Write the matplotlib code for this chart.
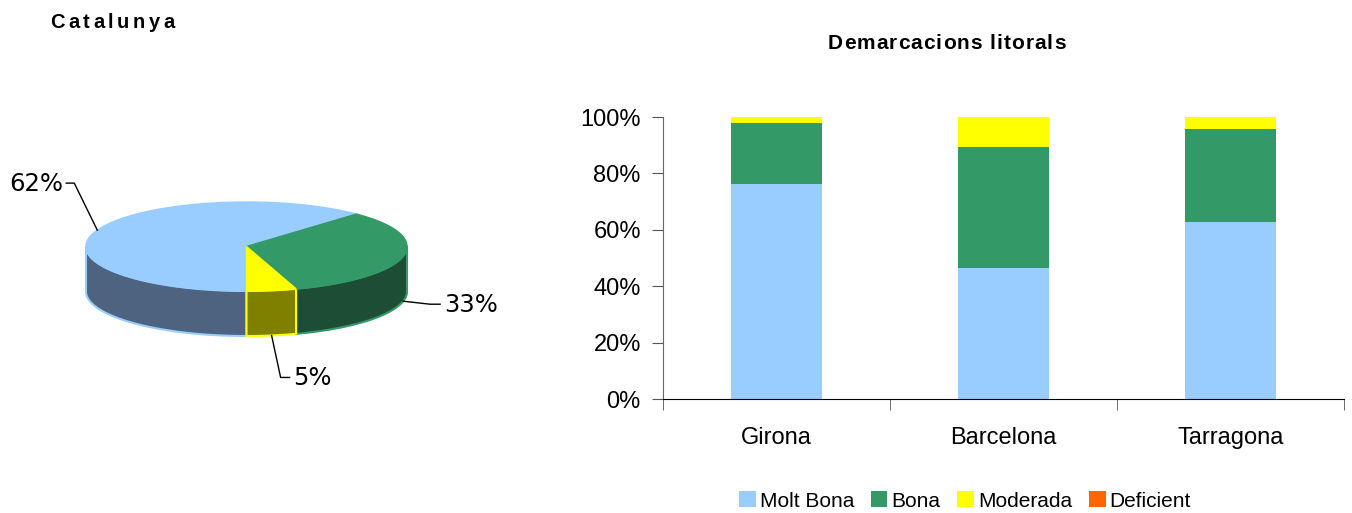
import matplotlib.pyplot as plt
import numpy as np
from matplotlib.patches import Polygon
from matplotlib.ticker import PercentFormatter

# ======================
# DATA
# ======================
pie_labels = ["Molt Bona", "Bona", "Moderada"]
pie_values = [62, 33, 5]

regions = ["Girona", "Barcelona", "Tarragona"]
molt_bona = [0.761, 0.465, 0.627]
bona = [0.218, 0.430, 0.332]
moderada = [0.021, 0.105, 0.041]
deficient = [0.0, 0.0, 0.0]

series_names = ["Molt Bona", "Bona", "Moderada", "Deficient"]
colors = ["#99CCFF", "#339966", "#FFFF00", "#FF6600"]
side_colors = ["#4D6380", "#1E4D35", "#808000"]
side_edges = ["#99CCFF", "#339966", "#FFFF00"]

W, H = 1352, 513
fig = plt.figure(figsize=(W / 100, H / 100), dpi=100)
renderer = fig.canvas.get_renderer()


def spaced_text(x, y, s, gap, **kw):
    # draw a string char by char with extra letter spacing (pixel coords)
    def width(txt):
        t = fig.text(0, 0, txt, **kw)
        w = t.get_window_extent(renderer).width
        t.remove()
        return w
    ref = width("l")
    for i, ch in enumerate(s):
        if ch == " ":
            continue
        off = (width(s[:i] + "l") - ref) if i else 0
        fig.text((x + off + i * gap) / W, 1 - y / H, ch, ha="left", va="baseline", **kw)


# ======================
# 3D PIE (drawn in pixel coords of a full-figure axes)
# ======================
pax = fig.add_axes([0, 0, 1, 1])
pax.set_xlim(0, W)
pax.set_ylim(H, 0)
pax.axis("off")

cx, cy, rx, ry, depth = 246.5, 246.5, 160.5, 44.5, 45


def pt(t, dy=0):
    r = np.radians(t)
    return cx + rx * np.cos(r), cy - ry * np.sin(r) + dy


fracs = np.array(pie_values) / sum(pie_values)
ends = np.cumsum(fracs)
starts = ends - fracs
spans = [(270 - e * 360, 270 - s * 360) for s, e in zip(starts, ends)]

# side walls (front half only)
for (a, b), fc, ec in zip(spans, side_colors, side_edges):
    for k in (-1, 0, 1):
        lo, hi = max(a, 180 + 360 * k), min(b, 360 + 360 * k)
        if hi <= lo:
            continue
        ts = np.linspace(lo, hi, 80)
        top = [pt(t) for t in ts]
        bot = [pt(t, depth) for t in ts[::-1]]
        pax.add_patch(Polygon(top + bot, closed=True, facecolor=fc,
                              edgecolor=ec, lw=1.5, zorder=1))

# top faces
for (a, b), fc in zip(spans, colors):
    ts = np.linspace(a, b, 200)
    poly = [(cx, cy)] + [pt(t) for t in ts]
    pax.add_patch(Polygon(poly, closed=True, facecolor=fc, edgecolor=fc,
                          lw=1, zorder=2))

# labels with leader lines
label_pos = [(-23, -47, -8, "right"), (27, 3, 10, "left"), (9, 42, 9, "left")]
for (a, b), v, (dx, dy, hx, ha) in zip(spans, pie_values, label_pos):
    mid = (a + b) / 2
    x0, y0 = pt(mid, depth if np.sin(np.radians(mid)) < 0 else 0)
    x1, y1 = x0 + dx, y0 + dy
    x2 = x1 + hx
    pax.plot([x0, x1, x2], [y0, y1, y1], color="black", lw=1, zorder=3)
    tx = x2 + (-3 if ha == "right" else 4)
    pax.text(tx, y1 + 1, f"{v}%", ha=ha, va="center", fontsize=17.5,
             family="DejaVu Sans", zorder=3)

spaced_text(50, 28.5, "Catalunya", 3.6, fontsize=14.5, weight="bold",
            family="Liberation Sans")

# ======================
# STACKED BARS
# ======================
ax = fig.add_axes([663 / W, (H - 399.3) / H, (1344 - 663) / W, (399.3 - 117) / H])
x = np.arange(len(regions))
bw = 0.405
bottom = np.zeros(len(regions))
for vals, name, c in zip([molt_bona, bona, moderada, deficient], series_names, colors):
    ax.bar(x, vals, bw, bottom=bottom, color=c, label=name, zorder=2)
    bottom += np.array(vals)

ax.set_xlim(-0.5, 2.5)
ax.set_ylim(0, 1)
ax.set_yticks(np.arange(0, 1.01, 0.2))
ax.yaxis.set_major_formatter(PercentFormatter(1.0, decimals=0))
ax.set_xticks(x)
ax.set_xticklabels(regions)
ax.set_xticks(np.arange(-0.5, 3, 1), minor=True)
ax.tick_params(axis="x", which="major", length=0, pad=20, labelsize=17)
ax.tick_params(axis="x", which="minor", length=8, direction="out", color="#555555")
ax.tick_params(axis="y", length=8, direction="out", color="#555555", labelsize=17, pad=8)
for lab in ax.get_xticklabels() + ax.get_yticklabels():
    lab.set_family("Liberation Sans")
ax.spines["top"].set_visible(False)
ax.spines["right"].set_visible(False)
ax.spines["left"].set_color("#666666")
ax.spines["bottom"].set_color("black")
ax.patch.set_alpha(0)

spaced_text(828, 49, "Demarcacions litorals", 1.0, fontsize=15,
            weight="bold", family="Liberation Sans")

leg = fig.legend(*ax.get_legend_handles_labels(), loc="center",
                 bbox_to_anchor=(965 / W, 1 - 501 / H), ncol=4, frameon=False,
                 prop={"family": "Liberation Sans", "size": 15},
                 handlelength=0.8, handleheight=0.8, handletextpad=0.2,
                 columnspacing=0.8)

fig.savefig("out.png", dpi=100)
